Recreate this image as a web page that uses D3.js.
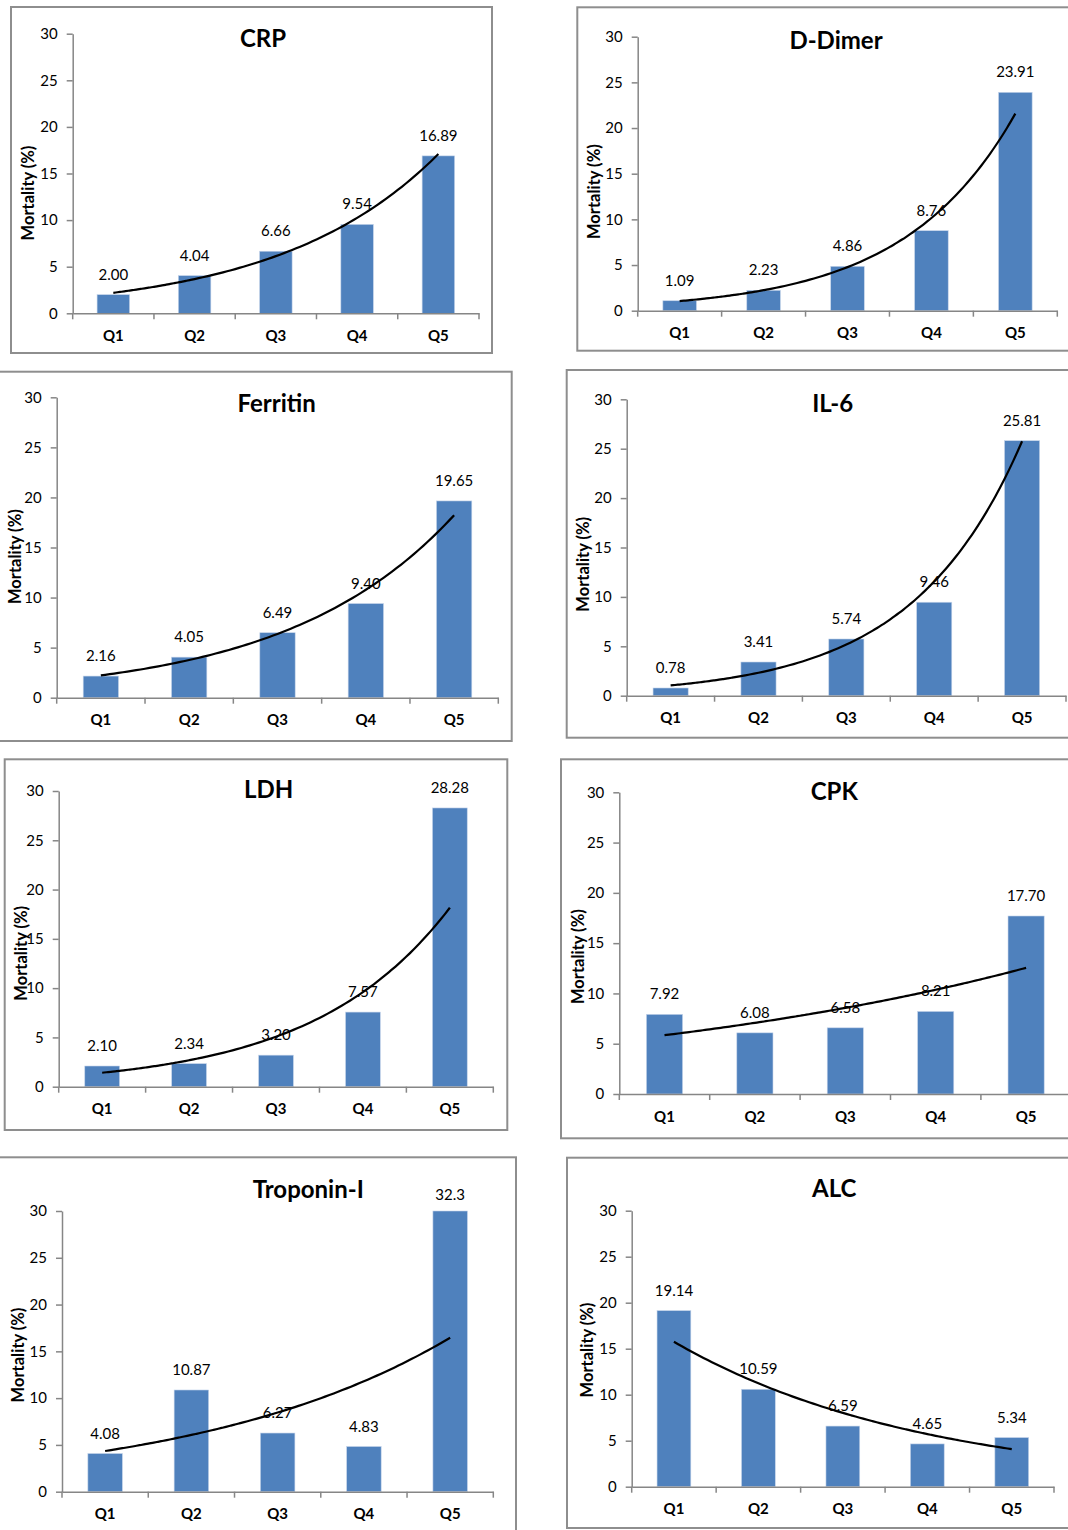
<!DOCTYPE html>
<html>
<head>
<meta charset="utf-8">
<script src="https://cdn.jsdelivr.net/npm/d3@7"></script>
<style>
  html, body { margin: 0; padding: 0; background: #fff; }
  svg { display: block; }
  text { font-family: Lato, "Open Sans", sans-serif; fill: #000; }
</style>
</head>
<body>
<svg id="chart" width="1068" height="1530"></svg>
<script>
// ---- data ----
const categories = ["Q1", "Q2", "Q3", "Q4", "Q5"];
const yTicks = [0, 5, 10, 15, 20, 25, 30];
const yAxisTitle = "Mortality (%)";
const titles = ["CRP", "D-Dimer", "Ferritin", "IL-6", "LDH", "CPK", "Troponin-I", "ALC"];
const crp       = [2.00, 4.04, 6.66, 9.54, 16.89];
const dDimer    = [1.09, 2.23, 4.86, 8.76, 23.91];
const ferritin  = [2.16, 4.05, 6.49, 9.40, 19.65];
const il6       = [0.78, 3.41, 5.74, 9.46, 25.81];
const ldh       = [2.10, 2.34, 3.20, 7.57, 28.28];
const cpk       = [7.92, 6.08, 6.58, 8.21, 17.70];
const troponin  = [4.08, 10.87, 6.27, 4.83, 32.3];
const alc       = [19.14, 10.59, 6.59, 4.65, 5.34];
const troponinDecimals = [2, 2, 2, 2, 1];

// ---- layout (positions only) ----
const panels = [
  { title: titles[0], values: crp,      box: [11, 7, 492, 353],     ax0: 72.7, ax1: 479,    y0: 313.3,  y30: 33.7,   tx: 263,   ty: 47,     ytx: 28,    yty: 193 },
  { title: titles[1], values: dDimer,   box: [577.3, 7.3, 1080, 350.7], ax0: 637.7, ax1: 1057.3, y0: 310.7, y30: 36.7, tx: 836, ty: 49.3, ytx: 594, yty: 191.7 },
  { title: titles[2], values: ferritin, box: [-5, 371.7, 511.7, 741], ax0: 56.7, ax1: 498.3,  y0: 697.7,  y30: 397.3,  tx: 276.7, ty: 411.7,  ytx: 15,    yty: 556.7 },
  { title: titles[3], values: il6,      box: [566.7, 370, 1080, 737.7], ax0: 626.7, ax1: 1066, y0: 695.7, y30: 399.3, tx: 832.7, ty: 411.7, ytx: 583.3, yty: 564.3 },
  { title: titles[4], values: ldh,      box: [4.7, 759.3, 507.3, 1130], ax0: 58.7, ax1: 493.3, y0: 1086.7, y30: 791,    tx: 268.7, ty: 798.3,  ytx: 20.7,  yty: 953.3 },
  { title: titles[5], values: cpk,      box: [561, 759.3, 1080, 1138.3], ax0: 619.3, ax1: 1071.3, y0: 1094, y30: 792.3, tx: 834.3, ty: 800, ytx: 577.7, yty: 956.7 },
  { title: titles[6], values: troponin, box: [-5, 1157.3, 516, 1540], ax0: 62, ax1: 493.3,  y0: 1491.7, y30: 1211,   tx: 308.3, ty: 1197.7, ytx: 18.3,  yty: 1355, decimals: troponinDecimals },
  { title: titles[7], values: alc,      box: [567, 1157.7, 1080, 1528], ax0: 631.7, ax1: 1054,  y0: 1486.7, y30: 1210.7, tx: 834.3, ty: 1197.3, ytx: 587.3, yty: 1350 }
];

const BAR = "#4F81BD";
const AXIS = "#868686";
const svg = d3.select("#chart");

// exponential least-squares fit (Excel-style trendline): ln y = a + b x, x = 1..n
function expFit(vals) {
  const xs = vals.map((_, i) => i + 1);
  const ls = vals.map(v => Math.log(v));
  const mx = d3.mean(xs), ml = d3.mean(ls);
  const b = d3.sum(xs, (x, i) => (x - mx) * (ls[i] - ml)) / d3.sum(xs, x => (x - mx) * (x - mx));
  const a = ml - b * mx;
  return x => Math.exp(a + b * x);
}

panels.forEach(p => {
  const g = svg.append("g");
  const [bx0, by0, bx1, by1] = p.box;
  g.append("rect")
    .attr("x", bx0).attr("y", by0)
    .attr("width", bx1 - bx0).attr("height", by1 - by0)
    .attr("fill", "#fff").attr("stroke", "#8e8e8e").attr("stroke-width", 2);

  const x = d3.scaleBand().domain(categories).range([p.ax0, p.ax1])
    .paddingInner(0.6).paddingOuter(0.3);
  const y = d3.scaleLinear().domain([0, 30]).range([p.y0, p.y30]);

  // bars (clipped at axis max)
  g.selectAll("rect.bar").data(p.values).join("rect")
    .attr("class", "bar")
    .attr("x", (d, i) => x(categories[i]))
    .attr("width", x.bandwidth())
    .attr("y", d => y(Math.min(d, 30)))
    .attr("height", d => y(0) - y(Math.min(d, 30)))
    .attr("fill", BAR)
    .attr("stroke", "#c5d4ea").attr("stroke-width", 0.6);

  // y axis
  const yAxis = g.append("g")
    .attr("transform", `translate(${p.ax0},0)`)
    .call(d3.axisLeft(y).tickValues(yTicks).tickSize(6).tickPadding(9).tickSizeOuter(0));
  yAxis.select(".domain").attr("stroke", AXIS).attr("stroke-width", 1.5);
  yAxis.selectAll(".tick line").attr("stroke", AXIS).attr("stroke-width", 1.5);
  yAxis.selectAll(".tick text").attr("font-size", 15).attr("font-family", "Lato").attr("fill", "#000");

  // x axis
  const xAxis = g.append("g")
    .attr("transform", `translate(0,${p.y0})`)
    .call(d3.axisBottom(x).tickSize(0).tickPadding(17).tickSizeOuter(0));
  xAxis.select(".domain").attr("stroke", AXIS).attr("stroke-width", 1.5);
  xAxis.selectAll(".tick text").attr("font-size", 15).attr("font-weight", "bold")
    .attr("font-family", "Lato").attr("fill", "#000");
  // boundary tick marks between categories
  const bounds = d3.range(categories.length + 1).map(i => p.ax0 + i * x.step());
  xAxis.selectAll("line.bound").data(bounds).join("line")
    .attr("class", "bound")
    .attr("x1", d => d).attr("x2", d => d)
    .attr("y1", 0).attr("y2", 6)
    .attr("stroke", AXIS).attr("stroke-width", 1.5);

  // trendline
  const f = expFit(p.values);
  const xi = d3.scaleLinear().domain([1, categories.length])
    .range([x(categories[0]) + x.bandwidth() / 2, x(categories[categories.length - 1]) + x.bandwidth() / 2]);
  const ts = d3.range(1, categories.length + 0.0001, 0.05);
  g.append("path")
    .attr("d", d3.line().x(t => xi(t)).y(t => y(f(t))).curve(d3.curveMonotoneX)(ts))
    .attr("fill", "none").attr("stroke", "#000").attr("stroke-width", 2.2);

  // value labels
  g.selectAll("text.val").data(p.values).join("text")
    .attr("class", "val")
    .attr("x", (d, i) => x(categories[i]) + x.bandwidth() / 2)
    .attr("y", d => y(Math.min(d, 30)) - (d > 30 ? 11 : 15))
    .attr("text-anchor", "middle")
    .attr("font-size", 15)
    .text((d, i) => d.toFixed(p.decimals ? p.decimals[i] : 2));

  // title
  g.append("text")
    .attr("x", p.tx).attr("y", p.ty)
    .attr("text-anchor", "middle")
    .attr("font-size", 24).attr("font-weight", "bold")
    .text(p.title);

  // y axis title
  g.append("text")
    .attr("transform", `translate(${p.ytx},${p.yty}) rotate(-90)`)
    .attr("text-anchor", "middle")
    .attr("dominant-baseline", "central")
    .attr("font-size", 16.5).attr("font-weight", "bold")
    .text(yAxisTitle);
});
</script>
</body>
</html>
